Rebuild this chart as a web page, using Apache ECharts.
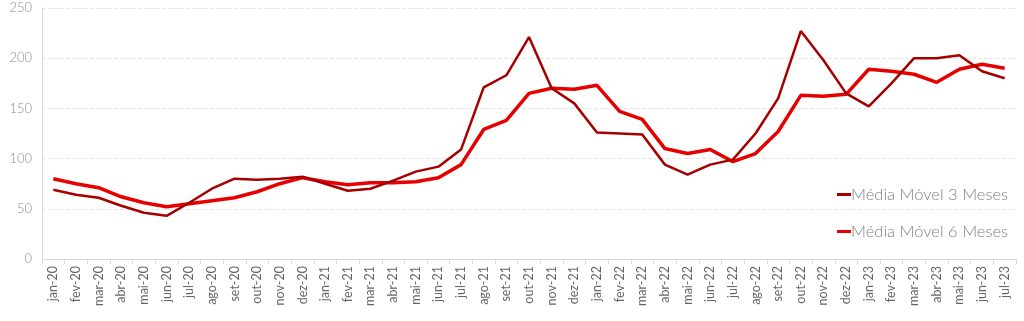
<!DOCTYPE html>
<html>
<head>
<meta charset="utf-8">
<script src="https://cdn.jsdelivr.net/npm/echarts@6/dist/echarts.min.js"></script>
<style>
html,body{margin:0;padding:0;background:#fff;}
#chart{width:1024px;height:321px;}
</style>
</head>
<body>
<div id="chart"></div>
<script>
var meses = ['jan-20','fev-20','mar-20','abr-20','mai-20','jun-20','jul-20','ago-20','set-20','out-20','nov-20','dez-20',
    'jan-21','fev-21','mar-21','abr-21','mai-21','jun-21','jul-21','ago-21','set-21','out-21','nov-21','dez-21',
    'jan-22','fev-22','mar-22','abr-22','mai-22','jun-22','jul-22','ago-22','set-22','out-22','nov-22','dez-22',
    'jan-23','fev-23','mar-23','abr-23','mai-23','jun-23','jul-23'];

// media movel 3 meses
var mm3 = [69,64,61,53,46,43,56,70,80,79,80,82,
    75,68,70,78,87,92,109,171,183,221,170,155,
    126,125,124,94,84,94,99,125,160,227,198,165,
    152,175,200,200,203,187,180];

// media movel 6 meses
var mm6 = [80,75,71,62,56,52,55,58,61,67,75,81,
    77,74,76,76,77,81,94,129,138,165,170,169,
    173,147,139,110,105,109,97,105,127,163,162,164,
    189,187,184,176,189,194,190];

var chart = echarts.init(document.getElementById('chart'));

var option = {
    backgroundColor: '#fff',
    animation: false,
    textStyle: { fontFamily: 'Lato' },
    grid: { left: 42, right: 8, top: 8, bottom: 62 },
    legend: {
        orient: 'vertical',
        left: 832,
        top: 181,
        itemGap: 20,
        itemWidth: 14,
        itemHeight: 3,
        icon: 'rect',
        textStyle: { color: '#7f7f7f', fontSize: 16.5, fontWeight: 300, fontFamily: 'Lato', padding: [0, 0, 0, -5] },
        data: ['Média Móvel 3 Meses', 'Média Móvel 6 Meses']
    },
    xAxis: {
        type: 'category',
        data: meses,
        boundaryGap: true,
        axisLine: { lineStyle: { color: '#d9d9d9' } },
        axisTick: { show: true, alignWithLabel: false, length: 5, lineStyle: { color: '#d9d9d9' } },
        axisLabel: { rotate: 90, color: '#666666', fontSize: 12.5, interval: 0, margin: 7 }
    },
    yAxis: {
        type: 'value',
        min: 0,
        max: 250,
        interval: 50,
        axisLine: { show: true, lineStyle: { color: '#d9d9d9' } },
        axisTick: { show: false },
        axisLabel: { color: '#8c8c8c', fontSize: 13, fontWeight: 300, margin: 10 },
        splitLine: { lineStyle: { color: '#e6e6e6', type: 'dashed' } }
    },
    series: [
        {
            name: 'Média Móvel 3 Meses',
            type: 'line',
            data: mm3,
            symbol: 'none',
            z: 3,
            itemStyle: { color: '#a50000' },
            lineStyle: { color: '#a50000', width: 2.5 }
        },
        {
            name: 'Média Móvel 6 Meses',
            type: 'line',
            data: mm6,
            symbol: 'none',
            z: 2,
            itemStyle: { color: '#e60000' },
            lineStyle: { color: '#e60000', width: 3.5 }
        }
    ]
};

chart.setOption(option);
</script>
</body>
</html>
